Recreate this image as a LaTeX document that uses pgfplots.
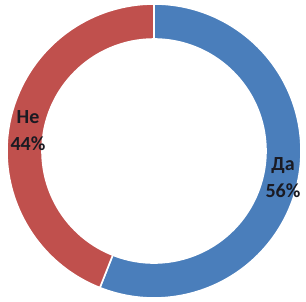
\documentclass[border=0pt]{standalone}
\usepackage{pgfplots}
\pgfplotsset{compat=1.18}
\usepackage{pgfplotstable}
\usepackage{fontspec}
\setmainfont{Carlito}
\definecolor{daBlue}{HTML}{4A7EBB}
\definecolor{neRed}{HTML}{C0504D}
\definecolor{lblText}{HTML}{1A1A22}
\pgfplotstableread{
idx value
0 56
1 44
}\donutdata
\begin{document}%
\begin{tikzpicture}
\pgfplotstablegetelem{0}{value}\of\donutdata
\global\let\va\pgfplotsretval
\pgfplotstablegetelem{1}{value}\of\donutdata
\global\let\vb\pgfplotsretval
\pgfmathsetmacro\aend{90-3.6*\va}
\global\let\aend\aend
\pgfmathsetmacro\bend{\aend-3.6*\vb}
\global\let\bend\bend
\begin{axis}[
  x=1bp, y=1bp,
  xmin=0, xmax=306, ymin=0, ymax=302,
  hide axis, clip=false,
  xtick=\empty, ytick=\empty,
]
\coordinate (bl) at (axis cs:0,0);
\coordinate (tr) at (axis cs:306,302);
% Да segment
\fill[daBlue, draw=white, line width=1.6bp, line join=miter]
  (axis cs:154,151) ++(90:147bp)
  arc[start angle=90, end angle=\aend, radius=147bp]
  -- ++(\aend:-35bp)
  arc[start angle=\aend, end angle=90, radius=112bp] -- cycle;
% Не segment
\fill[neRed, draw=white, line width=1.6bp, line join=miter]
  (axis cs:154,151) ++(\aend:147bp)
  arc[start angle=\aend, end angle=\bend, radius=147bp]
  -- ++(\bend:-35bp)
  arc[start angle=\bend, end angle=\aend, radius=112bp] -- cycle;
\node[align=center, font=\fontsize{20bp}{27bp}\selectfont\bfseries, text=lblText, inner sep=0pt]
  at (axis cs:28,171) {Не\\44\%};
\node[align=center, font=\fontsize{20bp}{27bp}\selectfont\bfseries, text=lblText, inner sep=0pt]
  at (axis cs:283,124) {Да\\56\%};
\end{axis}
\pgfresetboundingbox
\path (bl) rectangle (tr);
\end{tikzpicture}%
\end{document}
